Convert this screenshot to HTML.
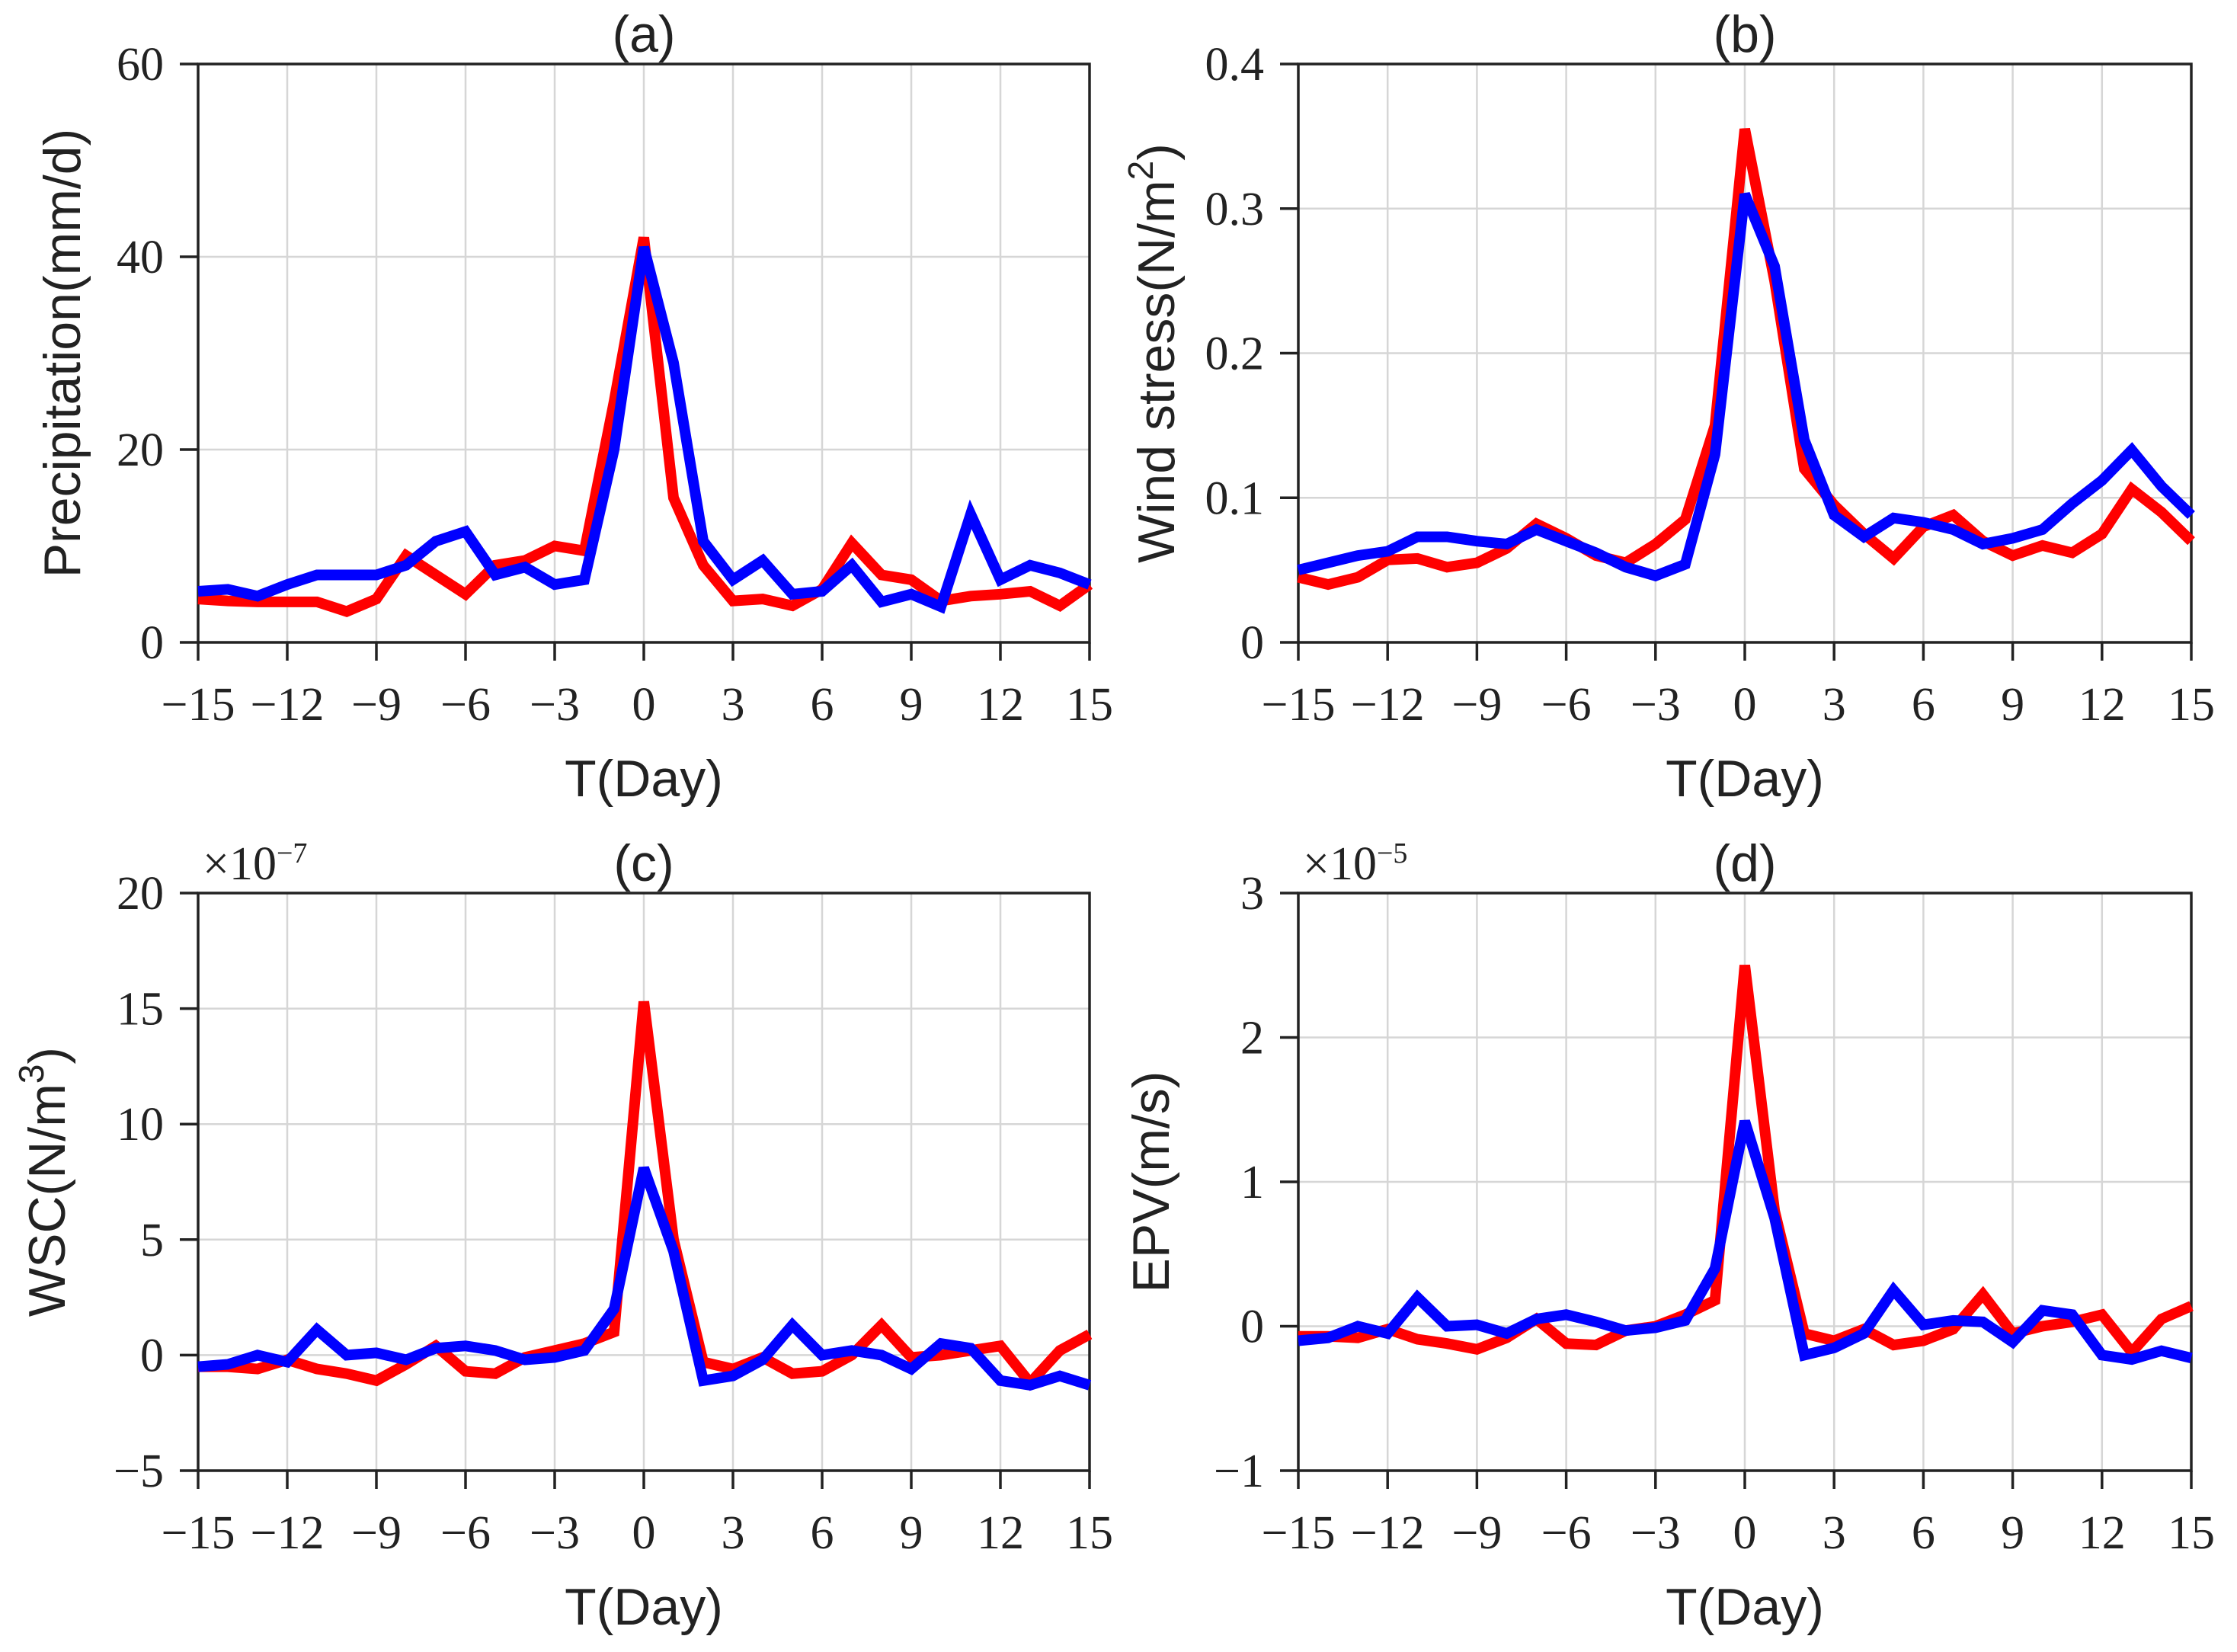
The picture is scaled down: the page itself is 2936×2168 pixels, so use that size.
<!DOCTYPE html>
<html><head><meta charset="utf-8"><style>
html,body{margin:0;padding:0;background:#fff;}
svg{display:block;}
.tick{font-family:"Liberation Serif",serif;font-size:62px;fill:#222;}
.lab{font-family:"Liberation Sans",sans-serif;font-size:68px;fill:#222;}
</style></head><body>
<svg id="fig" width="2936" height="2168" viewBox="0 0 2936 2168" xmlns="http://www.w3.org/2000/svg"></svg>
<script>
const days = [-15,-14,-13,-12,-11,-10,-9,-8,-7,-6,-5,-4,-3,-2,-1,0,1,2,3,4,5,6,7,8,9,10,11,12,13,14,15];
const xTicks = [-15,-12,-9,-6,-3,0,3,6,9,12,15];
const precipRed = [4.5,4.3,4.2,4.2,4.2,3.2,4.5,9,7,5,8,8.5,10,9.5,25,42,15,8,4.3,4.5,3.8,5.5,10.3,7,6.5,4.3,4.8,5,5.3,3.8,6];
const precipBlue = [5.3,5.5,4.8,6,7,7,7,8,10.5,11.5,7,7.8,6,6.5,20,41,29,10.5,6.5,8.5,5,5.3,8,4.2,5,3.7,13.3,6.5,8,7.2,6];
const windRed = [0.045,0.04,0.045,0.057,0.058,0.052,0.055,0.065,0.082,0.072,0.06,0.055,0.068,0.085,0.15,0.355,0.25,0.12,0.095,0.075,0.058,0.08,0.088,0.07,0.06,0.067,0.062,0.075,0.106,0.09,0.07];
const windBlue = [0.05,0.055,0.06,0.063,0.073,0.073,0.07,0.068,0.078,0.07,0.062,0.052,0.046,0.054,0.13,0.31,0.26,0.14,0.088,0.073,0.086,0.083,0.078,0.068,0.072,0.078,0.096,0.112,0.133,0.108,0.088];
const wscRed = [-0.5,-0.5,-0.6,-0.2,-0.6,-0.8,-1.1,-0.4,0.4,-0.7,-0.8,-0.1,0.2,0.5,1,15.3,5,-0.3,-0.6,-0.1,-0.8,-0.7,0,1.3,-0.1,0,0.2,0.4,-1.2,0.2,0.9];
const wscBlue = [-0.5,-0.4,0,-0.3,1.1,0,0.1,-0.2,0.3,0.4,0.2,-0.2,-0.1,0.2,2,8.1,4.5,-1.1,-0.9,-0.2,1.3,0,0.2,0,-0.6,0.5,0.3,-1.1,-1.3,-0.9,-1.3];
const epvRed = [-0.07,-0.07,-0.08,-0.02,-0.09,-0.12,-0.16,-0.08,0.05,-0.12,-0.13,-0.03,0,0.08,0.18,2.5,0.8,-0.05,-0.1,-0.02,-0.13,-0.1,-0.02,0.22,-0.05,0,0.03,0.08,-0.18,0.05,0.14];
const epvBlue = [-0.1,-0.08,0,-0.05,0.2,0,0.01,-0.05,0.05,0.08,0.03,-0.03,-0.01,0.04,0.4,1.42,0.75,-0.2,-0.15,-0.05,0.25,0.01,0.04,0.03,-0.11,0.11,0.08,-0.2,-0.23,-0.17,-0.22];
const yTicksA = [0,20,40,60];
const yTicksB = [0,0.1,0.2,0.3,0.4];
const yTicksC = [-5,0,5,10,15,20];
const yTicksD = [-1,0,1,2,3];

const NS="http://www.w3.org/2000/svg";
const svg=document.getElementById('fig');
function mk(tag,attrs,parent,text){const e=document.createElementNS(NS,tag);for(const k in attrs)e.setAttribute(k,attrs[k]);if(text!==undefined)e.textContent=text;(parent||svg).appendChild(e);return e;}
function fmtTick(v){return (v<0?'\u2212':'')+Math.abs(v);}

function panel(id,L,R,T,B,ymin,ymax,yTicks,red,blue,title,ylabel,sup,expo,yoff){
  const g=mk('g',{});
  
  
  const xs=v=>L+(v+15)/30*(R-L);
  const ys=v=>B-(v-ymin)/(ymax-ymin)*(B-T);
  xTicks.forEach(t=>{
    const l=mk('line',{x1:xs(t),x2:xs(t),y1:T,y2:B,stroke:'#d6d6d6','stroke-width':2.5},g);
    
    
    mk('line',{x1:xs(t),x2:xs(t),y1:B,y2:B+24,stroke:'#222','stroke-width':3.5},g);
    const tx=mk('text',{x:xs(t),y:B+102,'text-anchor':'middle',class:'tick'},g,fmtTick(t));
    
    
  });
  yTicks.forEach(t=>{
    const l=mk('line',{x1:L,x2:R,y1:ys(t),y2:ys(t),stroke:'#d6d6d6','stroke-width':2.5},g);
    
    
    mk('line',{x1:L-24,x2:L,y1:ys(t),y2:ys(t),stroke:'#222','stroke-width':3.5},g);
    const tx=mk('text',{x:L-45,y:ys(t)+21,'text-anchor':'end',class:'tick'},g,fmtTick(t));
    
    
  });
  const box=mk('rect',{x:L,y:T,width:R-L,height:B-T,fill:'none',stroke:'#222','stroke-width':3.5},g);
  
  
  [[red,'#ff0000','red-series'],[blue,'#0000ff','blue-series']].forEach(([arr,c,n])=>{
    const pts=arr.map((v,i)=>xs(days[i]).toFixed(1)+','+ys(v).toFixed(1)).join(' ');
    const p=mk('polyline',{points:pts,fill:'none',stroke:c,'stroke-width':14,'stroke-linejoin':'miter','stroke-miterlimit':3},g);
    
    
  });
  const tt=mk('text',{x:(L+R)/2,y:T-16,'text-anchor':'middle',class:'lab','font-size':62},g,title);
  
  
  const xl=mk('text',{x:(L+R)/2,y:B+202,'text-anchor':'middle',class:'lab'},g,'T(Day)');
  
  
  const cy=(T+B)/2, cx=L-yoff;
  const yl=mk('text',{x:cx,y:cy,'text-anchor':'middle',class:'lab',transform:`rotate(-90 ${cx} ${cy})`},g);
  
  
  mk('tspan',{},yl,ylabel);
  if(sup){mk('tspan',{dy:-28,'font-size':46},yl,sup);mk('tspan',{dy:28},yl,')');}
  if(expo){
    const e=mk('text',{x:L+6,y:T-18,class:'tick','font-size':54},g);
    
    
    mk('tspan',{},e,'\u00d710');
    mk('tspan',{dy:-22,'font-size':38},e,expo);
  }
}
panel('a',260,1430,84,843,0,60,yTicksA,precipRed,precipBlue,'(a)','Precipitation(mm/d)',null,null,155);
panel('b',1704,2876,84,843,0,0.4,yTicksB,windRed,windBlue,'(b)','Wind stress(N/m','2',null,163);
panel('c',260,1430,1172,1930,-5,20,yTicksC,wscRed,wscBlue,'(c)','WSC(N/m','3','\u22127',175);
panel('d',1704,2876,1172,1930,-1,3,yTicksD,epvRed,epvBlue,'(d)','EPV(m/s)',null,'\u22125',170);
</script>
</body></html>
